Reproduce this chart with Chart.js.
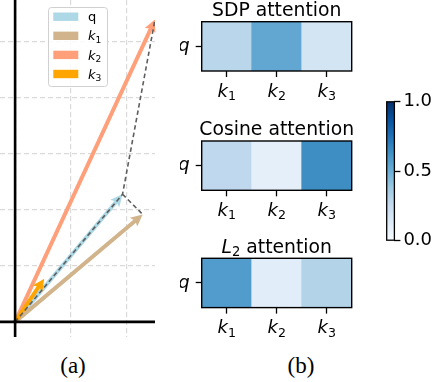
<!DOCTYPE html>
<html>
<head>
<meta charset="utf-8">
<script src="https://cdn.jsdelivr.net/npm/chart.js@4.4.0/dist/chart.umd.min.js"></script>
<style>
  body { margin: 0; background: #fff; width: 432px; height: 382px; position: relative; overflow: hidden; }
  canvas { position: absolute; }
  .cap { position: absolute; font-family: "Liberation Serif", serif; font-size: 23px; transform: translate(-50%, -50%); color: #000; }
</style>
</head>
<body>
<canvas id="vec"></canvas>
<canvas id="sdp"></canvas>
<canvas id="cos"></canvas>
<canvas id="l2"></canvas>
<canvas id="cbar"></canvas>
<div class="cap" style="left:73px;top:366px">(a)</div>
<div class="cap" style="left:301px;top:366px">(b)</div>
<script>
// panel (a): vectors from the origin
const vecNames = ['q', 'k1', 'k2', 'k3'];
const vecX = [1.92, 2.28, 2.5, 0.52];
const vecY = [2.28, 1.92, 5.4, 0.77];
const gridX = [0, 1, 2];
const gridY = [0, 1, 2, 3, 4, 5];

// panel (b): attention weights of q over the keys
const keyNames = ['k1', 'k2', 'k3'];
const sdpAttn = [0.29, 0.53, 0.18];
const cosAttn = [0.27, 0.09, 0.64];
const l2Attn = [0.58, 0.11, 0.31];
const cbarTicks = [0, 0.5, 1];

const vecColors = ['#add8e6', '#d2b48c', '#ffa07a', '#ffa500'];

Chart.defaults.font.family = '"DejaVu Sans"';
Chart.defaults.color = '#000';

// matplotlib "Blues"
const BLUES = [[247,251,255],[222,235,247],[198,219,239],[158,202,225],[107,174,214],
               [66,146,198],[33,113,181],[8,81,156],[8,48,107]];
function blues(v) {
  const t = Math.min(Math.max(v, 0), 1) * 8;
  const i = Math.min(Math.floor(t), 7), f = t - i;
  const c = BLUES[i].map((a, k) => Math.round(a + (BLUES[i + 1][k] - a) * f));
  return `rgb(${c[0]},${c[1]},${c[2]})`;
}

// "k1" -> italic k with subscript 1
function mathParts(name, upright) {
  if (name.length === 1) return [{ t: name, it: !upright }];
  return [{ t: name[0], it: true }, { t: name.slice(1), sub: true }];
}

function drawParts(ctx, parts, x, y, size, align) {
  const fontOf = p => (p.it ? 'italic ' : '') + (p.sub ? size * 0.7 : size) + 'px "DejaVu Sans"';
  let w = 0;
  parts.forEach(p => { ctx.font = fontOf(p); w += ctx.measureText(p.t).width; });
  let cx = align === 'center' ? x - w / 2 : x;
  ctx.save();
  ctx.fillStyle = '#000';
  ctx.textAlign = 'left';
  ctx.textBaseline = 'alphabetic';
  parts.forEach(p => {
    ctx.font = fontOf(p);
    ctx.fillText(p.t, cx, p.sub ? y + size * 0.19 : y);
    cx += ctx.measureText(p.t).width;
  });
  ctx.restore();
}

function setSize(id, left, top, w, h) {
  const c = document.getElementById(id);
  c.width = w; c.height = h;
  c.style.left = left + 'px'; c.style.top = top + 'px';
  c.style.width = w + 'px'; c.style.height = h + 'px';
  return c;
}

// ---------- (a) vectors ----------
const arrowPlugin = {
  id: 'arrows',
  beforeDatasetsDraw(chart) {
    const { ctx, scales: { x, y } } = chart;
    chart.data.datasets.forEach(ds => {
      if (!ds.arrow) return;
      const p0 = { x: x.getPixelForValue(ds.data[0].x), y: y.getPixelForValue(ds.data[0].y) };
      const p1 = { x: x.getPixelForValue(ds.data[1].x), y: y.getPixelForValue(ds.data[1].y) };
      const dx = p1.x - p0.x, dy = p1.y - p0.y, len = Math.hypot(dx, dy);
      const ux = dx / len, uy = dy / len, nx = -uy, ny = ux;
      const sw = 2.0, hw = 5.8, hl = 12, ha = 10.5;
      const b = { x: p1.x - ux * ha, y: p1.y - uy * ha };
      const h = { x: p1.x - ux * hl, y: p1.y - uy * hl };
      ctx.save();
      ctx.beginPath();
      ctx.moveTo(p0.x + nx * sw, p0.y + ny * sw);
      ctx.lineTo(b.x + nx * sw, b.y + ny * sw);
      ctx.lineTo(h.x + nx * hw, h.y + ny * hw);
      ctx.lineTo(p1.x, p1.y);
      ctx.lineTo(h.x - nx * hw, h.y - ny * hw);
      ctx.lineTo(b.x - nx * sw, b.y - ny * sw);
      ctx.lineTo(p0.x - nx * sw, p0.y - ny * sw);
      ctx.closePath();
      ctx.fillStyle = ds.backgroundColor;
      ctx.fill();
      ctx.restore();
    });
  },
  afterDatasetsDraw(chart) {
    // spines through the origin
    const { ctx, chartArea: a, scales: { x, y } } = chart;
    const x0 = x.getPixelForValue(0), y0 = y.getPixelForValue(0);
    ctx.save();
    ctx.strokeStyle = '#000';
    ctx.lineWidth = 2.6;
    ctx.beginPath();
    ctx.moveTo(a.left, y0); ctx.lineTo(a.right, y0);
    ctx.moveTo(x0, a.top); ctx.lineTo(x0, a.bottom);
    ctx.stroke();
    ctx.restore();
  },
  afterDraw(chart) {
    // legend box
    const ctx = chart.ctx;
    const items = chart.data.datasets.filter(d => d.arrow);
    ctx.save();
    ctx.fillStyle = 'rgba(255,255,255,0.85)';
    ctx.strokeStyle = '#d0d0d0';
    ctx.lineWidth = 1;
    ctx.beginPath();
    ctx.roundRect(48.5, 7.5, 59, 79, 3);
    ctx.fill();
    ctx.stroke();
    items.forEach((d, i) => {
      const cy = 16.7 + i * 19.1;
      ctx.fillStyle = d.backgroundColor;
      ctx.fillRect(53.3, cy - 4.2, 25, 8.4);
      drawParts(ctx, mathParts(d.label, true), 88, cy + 4.6, 13, 'left');
    });
    ctx.restore();
  }
};

setSize('vec', 0, 0, 175, 345);
const vecDatasets = vecNames.map((n, i) => ({
  label: n,
  arrow: true,
  data: [{ x: 0, y: 0 }, { x: vecX[i], y: vecY[i] }],
  backgroundColor: vecColors[i],
  showLine: false,
  pointRadius: 0
}));
const dashStyle = { showLine: true, borderColor: '#5e5e5e', borderWidth: 1.6, borderDash: [4.5, 3], pointRadius: 0, fill: false };
vecDatasets.push(Object.assign({ label: 'q-k2', data: [{ x: 0, y: 0 }, { x: vecX[0], y: vecY[0] }, { x: vecX[2], y: vecY[2] }] }, dashStyle));
vecDatasets.push(Object.assign({ label: 'q-k1', data: [{ x: vecX[0], y: vecY[0] }, { x: vecX[1], y: vecY[1] }] }, dashStyle));

const zeroFit = s => { if (s.isHorizontal()) s.height = 0; else s.width = 0; };
new Chart(document.getElementById('vec'), {
  type: 'scatter',
  data: { datasets: vecDatasets },
  options: {
    responsive: false,
    animation: false,
    events: [],
    layout: { padding: { left: 0, top: 0, right: 20, bottom: 8 } },
    plugins: { legend: { display: false }, tooltip: { enabled: false } },
    scales: {
      x: {
        type: 'linear', min: -0.27, max: 2.5,
        afterBuildTicks: s => { s.ticks = gridX.map(v => ({ value: v })); },
        afterFit: zeroFit,
        ticks: { display: false },
        grid: { color: '#dadada', lineWidth: 1.2, drawTicks: false },
        border: { display: false, dash: [5, 3] }
      },
      y: {
        type: 'linear', min: -0.27, max: 5.75,
        afterBuildTicks: s => { s.ticks = gridY.map(v => ({ value: v })); },
        afterFit: zeroFit,
        ticks: { display: false },
        grid: { color: '#dadada', lineWidth: 1.2, drawTicks: false },
        border: { display: false, dash: [5, 3] }
      }
    }
  },
  plugins: [arrowPlugin]
});

// ---------- (b) heatmaps ----------
const heatPlugin = {
  id: 'heat',
  afterDraw(chart, args, opts) {
    const { ctx, chartArea: a, scales: { x } } = chart;
    ctx.save();
    ctx.strokeStyle = '#000';
    ctx.lineWidth = 1.4;
    ctx.strokeRect(a.left, a.top, a.right - a.left, a.bottom - a.top);
    ctx.restore();
    if (opts.title) drawParts(ctx, opts.title, (a.left + a.right) / 2, a.top - 5.6, 18.8, 'center');
    if (opts.keys) {
      opts.keys.forEach((k, i) => {
        drawParts(ctx, mathParts(k), x.getPixelForTick(i), a.bottom + 25.5, 18, 'center');
      });
    }
  }
};

const BOX_H = 49.3, XAX_H = 41, CW = 185, YAX_W = 21.7, BOX_W = 150;
function heatmap(id, boxTop, title, values) {
  const top = Math.floor(boxTop) - 22;
  const padTop = boxTop - top;
  const h = Math.ceil(padTop + BOX_H + XAX_H + 2);
  setSize(id, 180, top, CW, h);
  new Chart(document.getElementById(id), {
    type: 'bar',
    data: {
      labels: keyNames,
      datasets: [{
        data: keyNames.map(() => 1),
        backgroundColor: values.map(blues),
        borderWidth: 0,
        barPercentage: 1,
        categoryPercentage: 1
      }]
    },
    options: {
      responsive: false,
      animation: false,
      events: [],
      layout: { padding: { left: 0, top: padTop, right: CW - YAX_W - BOX_W, bottom: h - padTop - BOX_H - XAX_H } },
      plugins: {
        legend: { display: false },
        tooltip: { enabled: false },
        heat: { title: title, keys: keyNames }
      },
      scales: {
        x: {
          afterFit: s => { s.height = XAX_H; },
          ticks: { callback: () => '' },
          grid: { offset: false, drawOnChartArea: false, drawTicks: true, tickLength: 6, tickColor: '#000', tickWidth: 1.3 },
          border: { display: false }
        },
        y: {
          min: 0, max: 1,
          afterBuildTicks: s => { s.ticks = [{ value: 0.5 }]; },
          afterFit: s => { s.width = YAX_W; },
          ticks: { callback: () => 'q', padding: 6, font: { size: 18, style: 'italic' } },
          grid: { drawOnChartArea: false, drawTicks: true, tickLength: 6, tickColor: '#000', tickWidth: 1.3 },
          border: { display: false }
        }
      }
    },
    plugins: [heatPlugin]
  });
}

heatmap('sdp', 21.7, [{ t: 'SDP attention' }], sdpAttn);
heatmap('cos', 141, [{ t: 'Cosine attention' }], cosAttn);
heatmap('l2', 258.3, [{ t: 'L', it: true }, { t: '2', sub: true }, { t: ' attention' }], l2Attn);

// ---------- colorbar ----------
setSize('cbar', 380, 88, 52, 166);
new Chart(document.getElementById('cbar'), {
  type: 'bar',
  data: {
    labels: [''],
    datasets: [{
      data: [cbarTicks[cbarTicks.length - 1]],
      backgroundColor: ctx => {
        const a = ctx.chart.chartArea;
        if (!a) return blues(0.5);
        const g = ctx.chart.ctx.createLinearGradient(0, a.bottom, 0, a.top);
        for (let i = 0; i <= 8; i++) g.addColorStop(i / 8, blues(i / 8));
        return g;
      },
      borderWidth: 0,
      barPercentage: 1,
      categoryPercentage: 1
    }]
  },
  options: {
    responsive: false,
    animation: false,
    events: [],
    layout: { padding: { left: 6.7, top: 12.7, right: 0, bottom: 13 } },
    plugins: { legend: { display: false }, tooltip: { enabled: false } },
    scales: {
      x: { display: false },
      y: {
        position: 'right',
        min: cbarTicks[0], max: cbarTicks[cbarTicks.length - 1],
        afterBuildTicks: s => { s.ticks = cbarTicks.map(v => ({ value: v })); },
        afterFit: s => { s.width = 37.6; },
        ticks: { callback: v => v.toFixed(1), padding: 3, font: { size: 18 } },
        grid: { drawOnChartArea: false, drawTicks: true, tickLength: 6, tickColor: '#000', tickWidth: 1.3 },
        border: { display: false }
      }
    }
  },
  plugins: [{
    id: 'cbarFrame',
    afterDatasetsDraw(chart) {
      const { ctx, chartArea: a } = chart;
      ctx.save();
      ctx.strokeStyle = '#000';
      ctx.lineWidth = 1.3;
      ctx.strokeRect(a.left, a.top, a.right - a.left, a.bottom - a.top);
      ctx.restore();
    }
  }]
});
</script>
</body>
</html>
